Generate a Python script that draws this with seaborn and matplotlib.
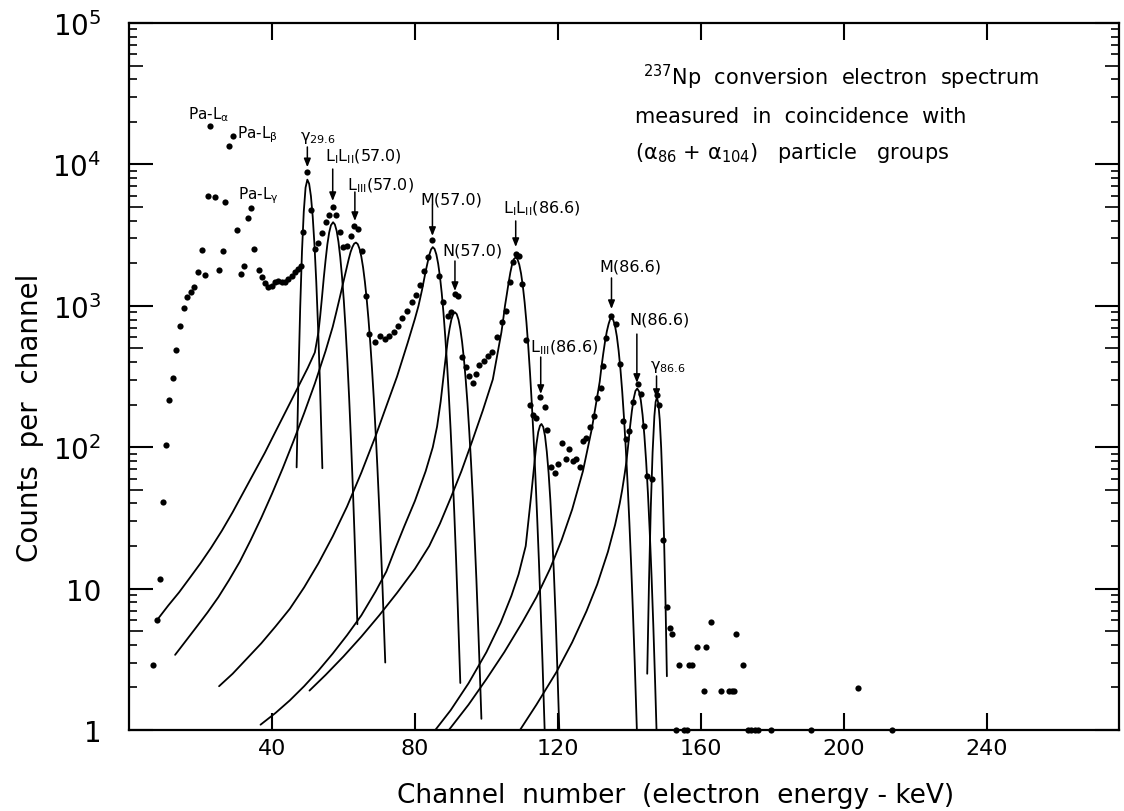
import numpy as np
import pandas as pd
import matplotlib
matplotlib.use("Agg")
import matplotlib.pyplot as plt
import seaborn as sns
from matplotlib.ticker import LogLocator, NullFormatter, NullLocator

sns.set_style("white")
plt.rcParams['font.family'] = ['DejaVu Sans']
plt.rcParams['mathtext.default'] = 'regular'
plt.rcParams['text.color'] = 'black'
plt.rcParams['axes.labelcolor'] = 'black'
plt.rcParams['xtick.color'] = 'black'
plt.rcParams['ytick.color'] = 'black'

# ---------------- measured spectrum (channel, counts per channel) ----------------
spec_ch = [6.7, 7.7, 8.7, 9.6, 10.4, 11.3, 12.4, 13.1, 14.2, 15.3, 16.3, 17.3, 18.2, 19.2,
           20.3, 21.3, 22.0, 22.8, 24.1, 25.3, 26.4, 27.0, 28.1, 29.0, 30.1, 31.3, 32.3,
           33.2, 34.2, 35.1, 36.3, 37.3, 38.0, 38.9, 39.9, 40.8, 41.8, 42.7, 43.6, 44.6,
           45.5, 46.4, 47.4, 48.2, 48.7, 49.9, 51.0, 52.0, 53.0, 54.0, 55.0, 55.9, 57.0,
           58.0, 59.0, 60.0, 61.1, 62.1, 63.0, 64.0, 65.1, 66.2, 67.2, 68.8, 70.2, 71.6,
           72.7, 74.1, 75.3, 76.5, 77.8, 79.2, 80.2, 81.4, 82.5, 83.7, 84.9, 86.8, 87.9,
           89.3, 90.2, 91.2, 92.1, 93.3, 94.2, 95.2, 96.3, 97.2, 98.0, 99.3, 100.5, 101.7,
           103.0, 104.5, 105.6, 106.6, 107.5, 108.2, 109.2, 110.0, 111.1, 112.2, 112.9,
           114.0, 115.1, 116.3, 117.0, 118.0, 119.1, 120.1, 121.2, 122.2, 123.2, 124.3,
           125.2, 126.2, 127.1, 128.0, 129.0, 130.1, 131.0, 132.0, 132.7, 133.6, 135.0,
           136.2, 137.3, 138.2, 139.0, 140.0, 141.1, 142.3, 143.2, 144.1, 145.0, 146.4,
           147.7, 148.4, 149.5, 150.5, 151.4, 151.9, 153.9, 156.7, 157.5, 159.0, 160.8,
           161.5, 162.9, 165.7, 167.8, 168.6, 169.4, 169.8, 171.8, 204.1]
spec_counts = [2.9, 6.0, 11.7, 41, 104, 217, 310, 490, 716, 965, 1150, 1245, 1350, 1740,
               2480, 1650, 5950, 18800, 5850, 1800, 2440, 5450, 13400, 15960, 3450, 1680, 1900,
               4170, 4900, 2510, 1800, 1590, 1440, 1350, 1390, 1470, 1500, 1470, 1470, 1550,
               1620, 1730, 1820, 1900, 3300, 8800, 4750, 2520, 2800, 3270, 3900, 4400, 5000,
               4400, 3300, 2600, 2650, 3100, 3680, 3500, 2450, 1180, 630, 557, 614, 582,
               614, 648, 724, 815, 922, 1056, 1200, 1400, 1750, 2200, 2900, 1633, 1057,
               851, 908, 1210, 1177, 432, 367, 320, 285, 330, 381, 409, 440, 469,
               598, 764, 923, 1465, 2030, 2320, 2260, 1430, 570, 199, 169,
               160, 225, 191, 133, 72, 66, 76, 107, 83, 97, 80,
               83, 72, 110, 116, 138, 165, 222, 261, 376, 596, 851,
               742, 388, 154, 114, 130, 208, 280, 238, 142, 63, 60,
               234, 199, 22, 7.4, 5.3, 4.8, 2.9, 2.9, 2.9, 3.85, 1.9,
               3.85, 5.8, 1.9, 1.9, 1.9, 1.9, 4.8, 2.9, 1.97]

# channels with zero counts (plotted on the lower axis)
zero_ch = [153.0, 155.2, 156.2, 173.1, 174.1, 175.1, 176.1, 179.5, 190.8, 213.5]
zero_counts = [1, 1, 1, 1, 1, 1, 1, 1, 1, 1]

# ---------------- fitted line shapes (channel, counts) ----------------
fit_g296_ch = [46.9, 47.4, 47.9, 48.4, 48.9, 49.4, 49.9, 50.4, 50.9, 51.4, 51.9, 52.4, 52.9,
               53.4, 54.1]
fit_g296_y = [72, 301, 971, 2420, 4630, 6850, 7800, 7300, 5975, 4280, 2683, 1473, 707, 297, 71]

fit_L12_57_ch = [8.3, 11, 14, 17, 20, 23, 26, 29, 32, 35, 38, 41, 44, 47, 50, 52, 53, 53.5,
                 54, 54.5, 55, 55.5, 56, 56.5, 57.1, 57.6, 58.1, 58.6, 59.1, 59.6, 60.1, 60.6,
                 61.1, 61.6, 62.1, 62.6, 63.1, 63.5, 63.9]
fit_L12_57_y = [6.2, 7.6, 9.4, 11.9, 15.1, 19.5, 25.7, 34.7, 47.9, 66.1, 91.2, 129, 182, 257,
                363, 468, 650, 850, 1150, 1580, 2100, 2720, 3290, 3710, 3900, 3760, 3390, 2840,
                2215, 1611, 1092, 689, 405, 222, 113, 54, 24, 11.9, 5.6]

fit_L3_57_ch = [12.9, 16, 19, 22, 25, 28, 31, 34, 37, 40, 43, 46, 49, 52, 55, 57, 58, 59, 60,
                61, 61.5, 62, 62.5, 63, 63.5, 64, 64.5, 65, 65.5, 66, 66.5, 67, 67.5, 68, 68.5,
                69, 69.5, 70, 70.5, 71, 71.7]
fit_L3_57_y = [3.4, 4.3, 5.4, 6.8, 8.7, 11.5, 15.5, 21.9, 31.6, 46.8, 70.8, 110, 174, 282,
               479, 710, 900, 1150, 1480, 1900, 2150, 2400, 2600, 2750, 2800, 2730, 2530, 2230,
               1865, 1480, 1120, 806, 550, 356, 220, 129, 72, 38, 19.2, 9.2, 3.0]

fit_M57_ch = [25.2, 29, 33, 37, 41, 45, 49, 53, 57, 61, 65, 69, 72, 75, 78, 80, 81, 82, 83,
              84, 84.5, 85, 85.5, 86, 86.5, 87, 87.5, 88, 88.5, 89, 89.5, 90, 90.5, 91, 91.5,
              92, 92.7]
fit_M57_y = [2.04, 2.5, 3.2, 4.1, 5.4, 7.2, 10.2, 15.1, 23.4, 38, 66, 120, 195, 316, 550,
             810, 1000, 1300, 1750, 2280, 2500, 2600, 2523, 2306, 1986, 1612, 1231, 884, 599,
             383, 230, 131, 69, 35, 16.5, 7.3, 2.15]

fit_N57_ch = [36.8, 41, 45, 49, 53, 57, 61, 65, 69, 72, 74.4, 77, 80, 83, 85, 86.2, 87.2,
              88.2, 88.7, 89.2, 89.7, 90.2, 90.7, 91.2, 91.7, 92.2, 92.7, 93.2, 93.7, 94.2,
              94.7, 95.2, 95.7, 96.2, 96.7, 97.2, 97.7, 98.2, 98.6]
fit_N57_y = [1.09, 1.32, 1.62, 2.04, 2.63, 3.47, 4.68, 6.46, 9.55, 13.2, 18.9, 27.5, 41.7,
             67.6, 100, 140, 210, 350, 450, 575, 690, 800, 870, 900, 873, 797, 686, 555, 423,
             303, 205, 130, 78, 44, 23, 11.6, 5.4, 2.4, 1.2]

fit_L12_87_ch = [50.5, 55, 60, 65, 70, 75, 80, 84, 87, 90, 93, 96, 99, 101.8, 103.5, 104.2,
                 104.7, 105.2, 105.7, 106.2, 106.7, 107.2, 107.7, 108.2, 108.7, 109.2, 109.7,
                 110.2, 110.7, 111.2, 111.7, 112.2, 112.7, 113.2, 113.7, 114.2, 114.7, 115.2,
                 115.7, 116.3]
fit_L12_87_y = [1.9, 2.45, 3.31, 4.57, 6.46, 9.33, 13.8, 20, 28.8, 43.7, 67.6, 110, 182, 302,
                520, 650, 800, 1000, 1200, 1450, 1720, 1970, 2140, 2200, 2135, 1955, 1690,
                1375, 1056, 766, 522, 336, 204, 117, 63, 32, 15.5, 7.0, 3.0, 1.0]

fit_L3_87_ch = [85.7, 90, 95, 100, 104, 107, 109, 111, 112.5, 113, 113.5, 114, 114.5, 115,
                115.4, 115.9, 116.4, 116.9, 117.4, 117.9, 118.4, 118.9, 119.4, 119.9, 120.4]
fit_L3_87_y = [1.0, 1.38, 2.14, 3.55, 5.75, 8.9, 12.6, 20, 45, 60, 80, 105, 128, 142, 146,
               139, 120, 93, 66, 42, 24, 12.6, 6.0, 2.5, 1.0]

fit_M87_ch = [89.5, 95, 100, 105, 110, 114, 117.8, 121, 124, 127, 129.5, 131.7, 132.2, 132.7,
              133.2, 133.7, 134.2, 134.6, 135, 135.5, 136, 136.5, 137, 137.5, 138, 138.5, 139,
              139.5, 140, 140.5, 141, 141.5, 142.1]
fit_M87_y = [1.0, 1.51, 2.29, 3.55, 5.75, 8.7, 13.8, 21.9, 36.3, 67.6, 135, 290, 370, 460,
             560, 660, 745, 800, 820, 793, 718, 608, 481, 357, 248, 161, 98, 55.5, 29.5, 14.7,
             6.8, 3.0, 1.0]

fit_N87_ch = [109.4, 114, 119.6, 124, 128, 131, 134, 136, 137.3, 138, 138.7, 139.2, 139.7,
              140.2, 140.7, 141.2, 141.7, 142.2, 142.7, 143.2, 143.7, 144.2, 144.7, 145.2,
              145.7, 146.2, 146.7, 147.2, 147.6]
fit_N87_y = [1.0, 1.51, 2.57, 4.17, 6.92, 10.7, 18.2, 28.2, 40, 50, 65, 80, 105, 140, 180,
             220, 250, 260, 248, 215, 169, 121, 79, 47, 25.2, 12.4, 5.5, 2.2, 1.0]

fit_g866_ch = [145.0, 145.5, 146.0, 146.5, 147.0, 147.35, 147.7, 148.1, 148.5, 148.9, 149.3,
               149.7, 150.1, 150.5]
fit_g866_y = [2.5, 11.3, 37.8, 92, 166, 209, 225, 205, 156, 99, 52, 23, 8.4, 2.4]

# ---------------- peak labels ----------------
peak_labels = [r"$\gamma_{29.6}$", r"L$_{I}$L$_{II}$(57.0)", r"L$_{III}$(57.0)", "M(57.0)",
               "N(57.0)", r"L$_{I}$L$_{II}$(86.6)", r"L$_{III}$(86.6)", "M(86.6)", "N(86.6)",
               r"$\gamma_{86.6}$"]
label_ch = [47.8, 54.8, 61.0, 81.4, 87.8, 104.6, 112.2, 131.5, 140.1, 145.7]
label_y = [15600, 11500, 7150, 5700, 2480, 4900, 512, 1910, 807, 375]
arrow_ch = [49.9, 57.0, 63.2, 84.9, 91.2, 108.2, 115.2, 135.0, 142.1, 147.6]
arrow_from = [13280, 9270, 6380, 5160, 2074, 3980, 434, 1574, 631, 319]
arrow_to = [9550, 5510, 3980, 3120, 1273, 2606, 238, 949, 285, 223]

xray_labels = [r"Pa-L$_{\alpha}$", r"Pa-L$_{\beta}$", r"Pa-L$_{\gamma}$"]
xray_ch = [16.5, 30.2, 30.5]
xray_y = [22700, 16400, 6080]

# ---------------- figure ----------------
fig = plt.figure(figsize=(11.24, 8.12), dpi=100)
ax = fig.add_axes([129 / 1124, 81 / 812, 990 / 1124, 707 / 812])
ax.set_yscale('log')

fits = {
    'g296': (fit_g296_ch, fit_g296_y), 'L12_57': (fit_L12_57_ch, fit_L12_57_y),
    'L3_57': (fit_L3_57_ch, fit_L3_57_y), 'M57': (fit_M57_ch, fit_M57_y),
    'N57': (fit_N57_ch, fit_N57_y), 'L12_87': (fit_L12_87_ch, fit_L12_87_y),
    'L3_87': (fit_L3_87_ch, fit_L3_87_y), 'M87': (fit_M87_ch, fit_M87_y),
    'N87': (fit_N87_ch, fit_N87_y), 'g866': (fit_g866_ch, fit_g866_y),
}
rows = []
for name, (cx, cy) in fits.items():
    for a, b in zip(cx, cy):
        rows.append((name, a, b))
fit_df = pd.DataFrame(rows, columns=['comp', 'ch', 'counts'])
sns.lineplot(data=fit_df, x='ch', y='counts', units='comp', estimator=None, sort=False,
             color='black', linewidth=1.3, ax=ax, legend=False)

spec_df = pd.DataFrame({'ch': spec_ch, 'counts': spec_counts})
sns.scatterplot(data=spec_df, x='ch', y='counts', color='black', s=20, linewidth=0, ax=ax,
                legend=False)
zero_df = pd.DataFrame({'ch': zero_ch, 'counts': zero_counts})
sns.scatterplot(data=zero_df, x='ch', y='counts', color='black', s=20, linewidth=0, ax=ax,
                legend=False)
ax.collections[-1].set_clip_on(False)

ax.set_xlim(0, 277)
ax.set_ylim(1, 1e5)
ax.set_xlabel('')
ax.set_ylabel('')

# overlay axis only for the longer 5 x 10^n minor ticks
ax5 = ax.twinx()
ax5.set_yscale('log')
ax5.set_ylim(1, 1e5)
ax5.set_yticks([5, 50, 500, 5000, 50000])
ax5.yaxis.set_minor_locator(NullLocator())
ax5.yaxis.set_major_formatter(NullFormatter())
ax5.tick_params(axis='y', which='major', direction='in', length=10, width=1.2, left=True,
                right=True, labelleft=False, labelright=False)
for sp in ax5.spines.values():
    sp.set_visible(False)
ax5.set_ylabel('')

# main ticks (set after twinx, which resets tick sides)
ax.set_xticks([40, 80, 120, 160, 200, 240])
ax.set_xticklabels(['40', '80', '120', '160', '200', '240'])
ax.xaxis.set_minor_locator(NullLocator())
ax.tick_params(axis='x', which='major', direction='in', length=12, width=1.5, top=True,
               bottom=True, labelsize=16, pad=6, colors='black')
ax.set_yticks([1, 10, 100, 1e3, 1e4, 1e5])
ax.set_yticklabels(['1', '10', r'$10^{2}$', r'$10^{3}$', r'$10^{4}$', r'$10^{5}$'])
ax.yaxis.set_minor_locator(LogLocator(base=10, subs=[2, 3, 4, 6, 7, 8, 9], numticks=50))
ax.yaxis.set_minor_formatter(NullFormatter())
ax.tick_params(axis='y', which='major', direction='in', length=17, width=1.5, left=True,
               right=True, labelleft=True, labelright=False, labelsize=20, pad=20,
               colors='black')
ax.tick_params(axis='y', which='minor', direction='in', length=6, width=1.2, left=True,
               right=True)
for sp in ax.spines.values():
    sp.set_linewidth(1.6)
    sp.set_color('black')

# annotations
for t, lx, ly in zip(peak_labels, label_ch, label_y):
    ax.text(lx, ly, t, fontsize=11.5, ha='left', va='center', color='black')
for t, lx, ly in zip(xray_labels, xray_ch, xray_y):
    ax.text(lx, ly, t, fontsize=11, ha='left', va='center', color='black')
for cx, y0, y1 in zip(arrow_ch, arrow_from, arrow_to):
    ax.annotate('', xy=(cx, y1), xytext=(cx, y0),
                arrowprops=dict(arrowstyle='-|>,head_length=0.5,head_width=0.2',
                                color='black', lw=1.1, shrinkA=0, shrinkB=0))

fig.text(643 / 1124, 1 - 77 / 812, r"$^{237}$Np  conversion  electron  spectrum",
         fontsize=15, ha='left', va='center', color='black')
fig.text(635 / 1124, 1 - 117 / 812, "measured  in  coincidence  with",
         fontsize=15, ha='left', va='center', color='black')
fig.text(635 / 1124, 1 - 153 / 812, r"($\alpha_{86}$ + $\alpha_{104}$)   particle   groups",
         fontsize=15, ha='left', va='center', color='black')

fig.text(676 / 1124, 1 - 796 / 812, "Channel  number  (electron  energy - keV)",
         fontsize=19, ha='center', va='center', color='black')
fig.text(30 / 1124, 1 - 418 / 812, "Counts  per  channel", fontsize=20, ha='center',
         va='center', rotation=90, color='black')

fig.savefig('out.png', dpi=100, facecolor='white')
